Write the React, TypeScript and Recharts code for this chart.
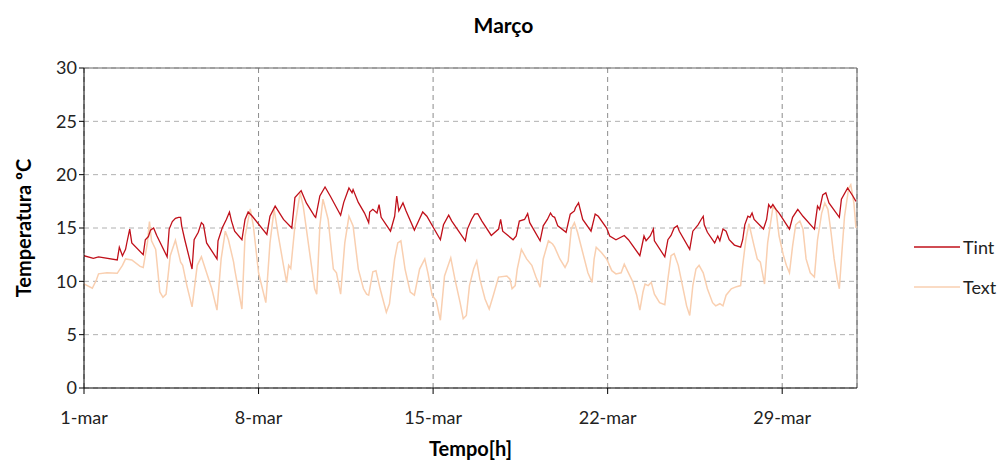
import React from 'react';
import { LineChart, Line, XAxis, YAxis, CartesianGrid, ReferenceLine } from 'recharts';

// hours since 1-mar 00:00
const tintHours = [0, 9, 14, 32, 34, 37, 40, 41, 44, 46, 57, 59, 62, 64, 67, 70, 80, 82, 85, 88, 91, 93, 94, 97, 104, 106, 110, 113, 115, 118, 128, 129, 133, 137, 140, 142, 145, 152, 155, 158, 162, 176, 179, 184, 192, 200, 203, 209, 214, 222, 223, 227, 232, 237, 247, 250, 255, 258, 259, 264, 270, 274, 275, 278, 282, 284, 286, 295, 299, 301, 303, 307, 310, 318, 322, 326, 330, 343, 346, 351, 354, 367, 369, 373, 376, 379, 383, 392, 399, 401, 403, 413, 416, 419, 424, 427, 429, 439, 442, 446, 449, 451, 453, 456, 464, 468, 472, 473, 476, 480, 488, 492, 495, 503, 506, 512, 520, 524, 535, 539, 541, 545, 548, 549, 559, 562, 565, 568, 571, 573, 583, 586, 591, 594, 596, 597, 600, 607, 610, 612, 615, 618, 621, 626, 632, 634, 636, 639, 641, 643, 645, 654, 657, 659, 661, 663, 666, 669, 679, 682, 687, 692, 703, 706, 708, 711, 714, 717, 727, 729, 735, 740, 743];
const tintTemps = [12.4, 12.15, 12.3, 12.0, 13.2, 12.4, 13.0, 13.5, 14.9, 13.6, 12.5, 13.9, 14.2, 14.8, 15.0, 14.3, 12.3, 14.9, 15.6, 15.9, 16.0, 16.0, 15.2, 13.9, 11.15, 13.9, 14.6, 15.5, 15.3, 13.6, 12.1, 13.8, 15.0, 15.8, 16.5, 15.65, 14.7, 13.9, 15.8, 16.5, 16.1, 14.4, 16.1, 17.05, 15.8, 15.0, 17.85, 18.5, 17.35, 16.1, 16.0, 18.0, 18.85, 18.0, 16.2, 17.4, 18.75, 18.3, 18.6, 17.4, 16.4, 15.5, 16.5, 16.75, 16.4, 17.2, 16.0, 14.7, 16.1, 18.0, 16.6, 17.35, 16.6, 14.8, 15.65, 16.5, 16.1, 13.9, 15.3, 16.2, 15.65, 13.8, 14.9, 15.8, 16.3, 16.35, 15.65, 14.3, 14.9, 15.8, 14.7, 13.9, 14.25, 15.65, 15.8, 16.35, 15.5, 13.8, 15.2, 15.8, 16.4, 16.1, 16.0, 15.2, 14.6, 16.3, 16.6, 16.9, 17.35, 15.8, 14.7, 16.3, 16.1, 15.0, 14.25, 13.9, 14.3, 13.9, 12.4, 14.25, 13.8, 14.25, 14.9, 13.8, 12.3, 13.9, 14.3, 15.0, 15.2, 14.7, 13.0, 14.7, 15.3, 15.8, 16.1, 15.3, 14.6, 13.6, 14.25, 13.8, 14.9, 14.7, 13.9, 13.4, 13.2, 13.9, 15.3, 16.1, 16.0, 16.4, 15.8, 14.9, 15.8, 17.2, 16.9, 17.2, 16.75, 16.4, 14.9, 16.0, 16.75, 16.1, 14.9, 17.05, 16.75, 18.1, 18.3, 17.35, 16.0, 17.7, 18.75, 18.0, 17.5];

const textHours = [0, 8, 12, 14, 22, 32, 37, 40, 46, 54, 57, 61, 63, 65, 69, 73, 76, 79, 83, 88, 93, 95, 99, 104, 109, 113, 118, 123, 128, 132, 136, 139, 144, 145, 152, 155, 160, 163, 168, 175, 179, 183, 187, 192, 195, 197, 199, 203, 208, 211, 218, 222, 224, 227, 230, 235, 240, 243, 247, 251, 255, 259, 264, 269, 272, 274, 278, 281, 285, 291, 294, 299, 302, 305, 309, 314, 318, 323, 328, 331, 335, 339, 343, 347, 353, 357, 362, 365, 368, 371, 375, 378, 381, 386, 390, 394, 399, 407, 410, 412, 415, 417, 421, 426, 431, 435, 439, 442, 447, 451, 453, 458, 463, 466, 469, 472, 475, 480, 485, 489, 491, 493, 498, 503, 508, 512, 517, 520, 524, 528, 532, 535, 538, 540, 543, 546, 549, 554, 559, 562, 565, 568, 572, 576, 580, 583, 586, 589, 592, 596, 600, 605, 608, 612, 615, 618, 623, 628, 632, 634, 637, 640, 645, 648, 651, 655, 658, 663, 666, 669, 673, 676, 679, 682, 685, 689, 692, 695, 699, 703, 706, 710, 713, 716, 719, 722, 725, 727, 729, 732, 736, 738, 741, 743];
const textTemps = [9.75, 9.35, 10.15, 10.7, 10.8, 10.75, 11.5, 12.1, 12.0, 11.4, 11.3, 13.6, 15.6, 13.8, 13.0, 9.0, 8.5, 8.8, 12.4, 13.85, 11.8, 11.5, 9.6, 7.6, 11.5, 12.3, 10.8, 9.3, 7.3, 12.1, 14.7, 13.9, 11.8, 11.15, 7.4, 14.25, 16.8, 15.2, 10.8, 8.0, 13.6, 16.75, 14.3, 11.5, 9.9, 11.5, 11.2, 15.2, 18.3, 17.05, 12.1, 9.3, 8.8, 15.2, 17.7, 15.8, 11.15, 10.8, 8.8, 13.6, 16.1, 15.2, 11.15, 9.3, 8.8, 8.7, 10.9, 11.0, 9.3, 7.1, 7.9, 12.1, 13.6, 13.8, 11.15, 9.0, 8.7, 11.15, 12.1, 10.8, 8.7, 8.2, 6.35, 10.5, 12.2, 10.2, 8.0, 6.5, 6.8, 9.6, 11.15, 11.9, 10.2, 8.35, 7.4, 8.7, 10.4, 10.5, 10.2, 9.3, 9.6, 11.15, 13.0, 12.1, 11.5, 10.4, 9.45, 12.1, 13.8, 13.5, 13.2, 12.1, 11.3, 11.9, 14.9, 15.5, 14.6, 12.7, 10.8, 9.9, 12.1, 13.2, 12.7, 12.1, 11.0, 10.7, 10.8, 11.6, 10.8, 10.0, 8.7, 7.3, 9.0, 9.75, 9.6, 9.9, 8.8, 8.0, 7.8, 10.2, 12.4, 12.6, 11.5, 9.6, 7.7, 6.8, 9.6, 11.15, 11.5, 10.8, 9.3, 8.0, 7.7, 7.9, 7.7, 8.7, 9.3, 9.5, 9.6, 11.5, 13.9, 15.4, 13.3, 12.1, 11.8, 9.75, 13.6, 16.9, 16.75, 14.25, 12.5, 11.5, 10.8, 13.3, 15.3, 15.65, 14.9, 12.1, 10.8, 10.4, 13.9, 16.4, 17.35, 16.75, 14.6, 12.1, 10.2, 9.3, 12.1, 16.1, 18.75, 19.05, 17.35, 15.0];

const dayTicks = [0, 168, 336, 504, 672];
const dayLabels = ['1-mar', '8-mar', '15-mar', '22-mar', '29-mar'];
const tempTicks = [0, 5, 10, 15, 20, 25, 30];

const tintData = tintHours.map((h, i) => ({ h, v: tintTemps[i] }));
const textData = textHours.map((h, i) => ({ h, v: textTemps[i] }));

const FONT = 'Lato, "Open Sans", sans-serif';
const TINT = '#C0101A';
const TEXT = '#F9CFB0';

const LegendBox = () => (
  <div style={{ position: 'absolute', left: 914, top: 227, fontFamily: FONT, fontSize: 18, color: '#222' }}>
    {[{ name: 'Tint', color: TINT }, { name: 'Text', color: TEXT }].map((s) => (
      <div key={s.name} style={{ display: 'flex', alignItems: 'center', height: 40 }}>
        <svg width={46} height={4} style={{ marginRight: 3 }}>
          <line x1={0} y1={2} x2={46} y2={2} stroke={s.color} strokeWidth={1.5} />
        </svg>
        <span>{s.name}</span>
      </div>
    ))}
  </div>
);

export default function App() {
  return (
    <div style={{ position: 'absolute', left: 0, top: 0, width: 1007, height: 463, background: '#fff', fontFamily: FONT }}>
      <LineChart width={1007} height={463} margin={{ top: 68, right: 150, bottom: 0, left: 0 }}>
        <CartesianGrid stroke="#B0B0B0" strokeDasharray="5 4" vertical={false} />
        <CartesianGrid stroke="#8C8C8C" strokeDasharray="5 4" horizontal={false} />
        <XAxis
          type="number"
          dataKey="h"
          domain={[0, 744]}
          ticks={dayTicks}
          tickFormatter={(t: number) => dayLabels[dayTicks.indexOf(t)]}
          stroke="#000"
          tick={{ fill: '#222', fontSize: 18, fontFamily: FONT }}
          tickSize={6}
          tickMargin={17}
          height={75}
          allowDataOverflow
        />
        <YAxis
          type="number"
          domain={[0, 30]}
          ticks={tempTicks}
          stroke="#000"
          tick={{ fill: '#222', fontSize: 18, fontFamily: FONT }}
          tickSize={5}
          tickMargin={2}
          width={84}
        />
        <ReferenceLine y={30} stroke="#666" />
        <ReferenceLine x={744} stroke="#666" />
        <Line data={textData} dataKey="v" name="Text" type="linear" stroke={TEXT} strokeWidth={1.5} dot={false} isAnimationActive={false} />
        <Line data={tintData} dataKey="v" name="Tint" type="linear" stroke={TINT} strokeWidth={1.3} dot={false} isAnimationActive={false} />
      </LineChart>
      <div style={{ position: 'absolute', left: 0, width: 1007, top: 12, textAlign: 'center', fontWeight: 'bold', fontSize: 21, color: '#000' }}>
        Março
      </div>
      <div style={{ position: 'absolute', left: 84, width: 773, top: 436, textAlign: 'center', fontWeight: 'bold', fontSize: 20, color: '#000' }}>
        Tempo[h]
      </div>
      <div style={{ position: 'absolute', left: 23, top: 228, width: 0, height: 0 }}>
        <div style={{ position: 'absolute', transform: 'translate(-50%, -50%) rotate(-90deg)', whiteSpace: 'nowrap', fontWeight: 'bold', fontSize: 20, color: '#000' }}>
          Temperatura ºC
        </div>
      </div>
      <LegendBox />
    </div>
  );
}
